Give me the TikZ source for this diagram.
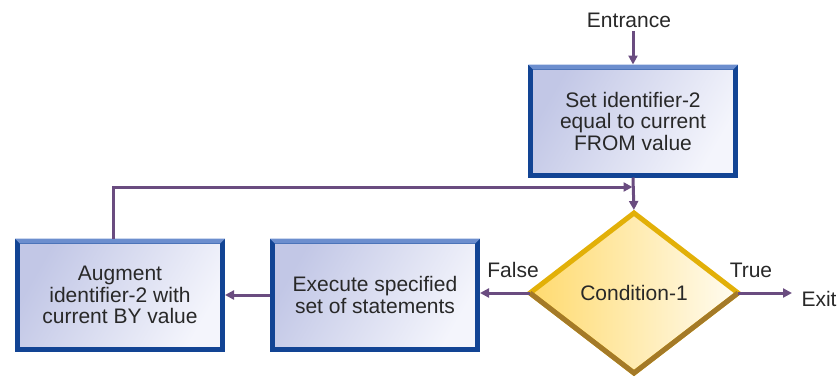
\documentclass[tikz,border=0pt]{standalone}
\usepackage{fontspec}
\setmainfont{Liberation Sans}
\usetikzlibrary{calc}
\usetikzlibrary{positioning}
\usetikzlibrary{shapes.geometric}
\usetikzlibrary{arrows.meta}
\definecolor{flowline}{RGB}{106,76,128}
\definecolor{boxedge}{RGB}{18,68,148}
\definecolor{boxtop}{RGB}{108,142,206}
\definecolor{boxfill}{RGB}{194,199,230}
\definecolor{boxlight}{RGB}{244,245,252}
\definecolor{condedge}{RGB}{226,176,8}
\definecolor{conddark}{RGB}{164,122,40}
\definecolor{condfill}{RGB}{255,218,110}
\definecolor{condlight}{RGB}{255,252,242}
\definecolor{txt}{RGB}{40,40,40}

\begin{document}
\begin{tikzpicture}[x=1pt, y=-1pt,
		font=\fontsize{21}{21.5}\selectfont, text=txt,
		b/.style = {rectangle, draw=boxedge, line width=5pt, left color=boxfill, right color=boxlight, shading angle=60, minimum width=205pt, minimum height=108pt, align=center},
		c/.style = {diamond, draw=condedge, line width=5pt, outer sep=0pt, left color=condfill, right color=condlight, minimum width=208pt, minimum height=160pt, aspect=1.3, inner sep=0pt},
		r/.style = {-{Triangle[length=9pt, width=9pt]}, draw=flowline, line width=3pt}
		]
		\useasboundingbox (0,0) rectangle (840,376);
		
		%Nodes
		\node		(entr)	at	(629, 20)	{Entrance};
		\node[b]	(set)	at	(633, 121)	{Set identifier-2\\equal to current\\FROM value};
		\node[c]	(cond)	at	(634, 293)	{Condition-1};
		\node[b]	(exec)	at	(375, 295)	{Execute specified\\set of statements};
		\node[b]	(aug)	at	(120, 295)	{Augment\\identifier-2 with\\current BY value};
		\node		(exit)	at	(819, 299)	{Exit};
		\coordinate	(out)	at	(792, 293);
		\coordinate	(back)	at	(113, 187);
		
		%Bevels
		\foreach \n in {set, exec, aug}
			\fill[boxtop] (\n.north west) -- (\n.north east) -- ($(\n.north east)+(-5,5)$) -- ($(\n.north west)+(5,5)$) -- cycle;
		\draw[conddark, line width=5pt] (cond.west) -- (cond.south) -- (cond.east);
		
		%Lines
		\draw[r]	(set.north |- entr.south)	--	(set.north);
		\draw[r, shorten >=3pt]	(set.south)	--	(cond.north);
		\draw[r, shorten >=1.5pt]	(back |- aug.north)	--	(back)	--	(back -| cond.north);
		\draw[r]	(cond.west)	--	node[pos=0.34, above=10pt]	{False}	(cond.west -| exec.east);
		\draw[r]	(exec.west)	--	(aug.east);
		\draw[r]	(cond.east)	--	node[pos=0.24, above=10pt]	{True}	(cond.east -| out);
\end{tikzpicture}
\end{document}
